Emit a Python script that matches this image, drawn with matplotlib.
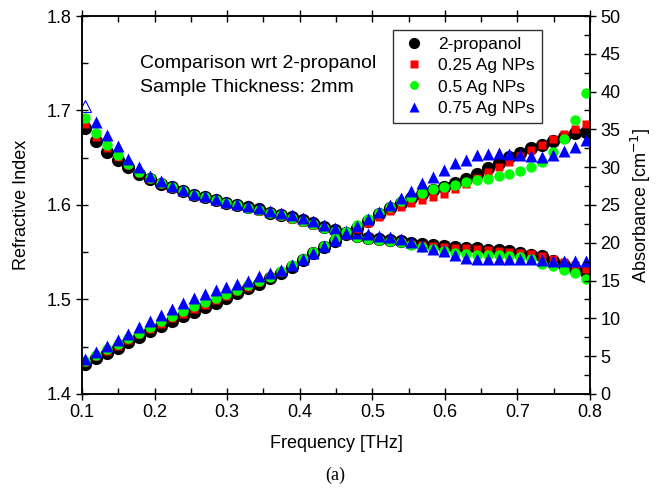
import matplotlib
matplotlib.use("Agg")
import matplotlib.pyplot as plt
from matplotlib.ticker import MultipleLocator

plt.rcParams['font.family'] = ['Liberation Sans', 'DejaVu Sans']

freq = [0.104, 0.119, 0.134, 0.149, 0.164, 0.179, 0.194, 0.209, 0.224, 0.239,
        0.254, 0.269, 0.284, 0.299, 0.314, 0.329, 0.344, 0.359, 0.374, 0.389,
        0.404, 0.419, 0.434, 0.449, 0.464, 0.479, 0.494, 0.509, 0.524, 0.539,
        0.554, 0.569, 0.584, 0.599, 0.614, 0.629, 0.644, 0.659, 0.674, 0.689,
        0.704, 0.719, 0.734, 0.749, 0.764, 0.779, 0.794]

# refractive index
n_prop = [1.681, 1.668, 1.656, 1.648, 1.640, 1.633, 1.628, 1.622, 1.619, 1.615,
          1.611, 1.608, 1.605, 1.602, 1.600, 1.598, 1.596, 1.592, 1.589, 1.587,
          1.584, 1.581, 1.577, 1.574, 1.570, 1.567, 1.565, 1.564, 1.563, 1.562,
          1.560, 1.559, 1.558, 1.557, 1.556, 1.555, 1.554, 1.552, 1.552, 1.551,
          1.549, 1.547, 1.546, 1.541, 1.537, 1.532, 1.529]
n_025 = [1.686, 1.672, 1.660, 1.651, 1.642, 1.634, 1.628, 1.622, 1.618, 1.614,
         1.610, 1.607, 1.604, 1.601, 1.599, 1.597, 1.594, 1.591, 1.588, 1.585,
         1.582, 1.579, 1.576, 1.572, 1.569, 1.566, 1.564, 1.563, 1.562, 1.561,
         1.559, 1.558, 1.557, 1.556, 1.555, 1.554, 1.553, 1.552, 1.551, 1.550,
         1.549, 1.548, 1.546, 1.543, 1.540, 1.536, 1.532]
n_05 = [1.692, 1.676, 1.664, 1.653, 1.643, 1.635, 1.629, 1.623, 1.619, 1.615,
        1.611, 1.608, 1.605, 1.602, 1.600, 1.597, 1.595, 1.592, 1.589, 1.586,
        1.583, 1.580, 1.576, 1.573, 1.569, 1.566, 1.564, 1.563, 1.562, 1.561,
        1.558, 1.556, 1.553, 1.551, 1.549, 1.548, 1.547, 1.547, 1.547, 1.546,
        1.545, 1.543, 1.538, 1.535, 1.531, 1.528, 1.522]
n_075 = [1.705, 1.688, 1.674, 1.662, 1.649, 1.640, 1.631, 1.625, 1.620, 1.616,
         1.612, 1.609, 1.606, 1.603, 1.601, 1.599, 1.597, 1.594, 1.591, 1.589,
         1.586, 1.583, 1.579, 1.576, 1.573, 1.570, 1.569, 1.567, 1.566, 1.564,
         1.561, 1.557, 1.553, 1.551, 1.547, 1.544, 1.543, 1.543, 1.543, 1.543,
         1.543, 1.543, 1.542, 1.541, 1.541, 1.541, 1.541]

# absorbance [cm^-1]
a_prop = [3.9, 4.7, 5.4, 6.1, 6.9, 7.6, 8.3, 9.0, 9.7, 10.3,
          10.9, 11.5, 12.1, 12.7, 13.3, 14.0, 14.6, 15.3, 16.0, 16.8,
          17.7, 18.6, 19.4, 20.3, 21.2, 22.0, 22.9, 23.8, 24.6, 25.3,
          25.9, 26.5, 27.0, 27.4, 27.9, 28.4, 29.1, 29.85, 30.6, 31.3,
          31.9, 32.5, 32.9, 33.5, 34.0, 34.5, 34.7]
a_025 = [4.2, 5.0, 5.7, 6.4, 7.2, 7.9, 8.6, 9.3, 10.0, 10.6,
         11.2, 11.8, 12.4, 13.0, 13.6, 14.2, 14.8, 15.5, 16.2, 17.0,
         17.8, 18.6, 19.4, 20.2, 21.0, 21.8, 22.6, 23.4, 24.2, 24.7,
         25.2, 25.7, 26.0, 26.4, 27.1, 27.8, 28.6, 29.3, 30.0, 30.7,
         31.5, 32.3, 32.9, 33.7, 34.4, 35.0, 35.7]
a_05 = [4.3, 5.1, 5.9, 6.6, 7.4, 8.1, 8.9, 9.6, 10.3, 11.0,
        11.6, 12.2, 12.7, 13.2, 13.8, 14.4, 14.9, 15.5, 16.3, 17.1,
        17.9, 18.8, 19.6, 20.5, 21.4, 22.3, 23.1, 24.0, 24.8, 25.5,
        26.1, 26.6, 27.1, 27.4, 27.7, 28.0, 28.3, 28.5, 28.8, 29.1,
        29.5, 30.0, 30.7, 32.0, 33.7, 36.2, 39.8]
a_075 = [4.6, 5.5, 6.4, 7.1, 8.0, 8.8, 9.6, 10.4, 11.2, 12.0,
         12.7, 13.2, 13.8, 14.2, 14.6, 15.0, 15.6, 16.0, 16.4, 17.0,
         17.8, 18.7, 19.6, 20.4, 21.3, 22.2, 23.1, 24.1, 25.0, 25.9,
         26.8, 27.9, 28.7, 29.6, 30.5, 31.0, 31.6, 31.8, 31.9, 31.8,
         31.6, 31.5, 31.3, 31.6, 32.1, 32.7, 33.6]

labels = ['2-propanol', '0.25 Ag NPs', '0.5 Ag NPs', '0.75 Ag NPs']

fig = plt.figure(figsize=(6.6, 4.91), dpi=100)
ax = fig.add_axes([0.1242, 0.1976, 0.7697, 0.7698])
ax2 = ax.twinx()

st = [dict(marker='o', color='black', ms=9.5),
      dict(marker='s', color='red', ms=6),
      dict(marker='o', color='#00ff00', ms=7.5),
      dict(marker='^', color='blue', ms=8.5)]

for y, s in zip([n_prop, n_025, n_05], st[:3]):
    ax.plot(freq, y, ls='none', mec='none', **s)
ax.plot(freq[1:], n_075[1:], ls='none', mec='none', **st[3])
ax.plot(freq[:1], n_075[:1], ls='none', mfc='none', mec='blue', mew=0.8,
        marker='^', ms=8.5)

handles = []
for y, s, lab in zip([a_prop, a_025, a_05, a_075], st, labels):
    h, = ax2.plot(freq, y, ls='none', mec='none', label=lab, **s)
    handles.append(h)

ax.set_xlim(0.1, 0.8)
ax.set_ylim(1.4, 1.8)
ax2.set_ylim(0, 50)
ax.xaxis.set_major_locator(MultipleLocator(0.1))
ax.xaxis.set_minor_locator(MultipleLocator(0.05))
ax.yaxis.set_major_locator(MultipleLocator(0.1))
ax.yaxis.set_minor_locator(MultipleLocator(0.05))
ax2.yaxis.set_major_locator(MultipleLocator(5))
ax2.yaxis.set_minor_locator(MultipleLocator(2.5))

for a in (ax, ax2):
    a.tick_params(which='major', direction='inout', length=8, width=1,
                  labelsize=13)
    a.tick_params(which='minor', direction='in', length=4, width=1)
    for sp in a.spines.values():
        sp.set_linewidth(1.1)
ax.tick_params(which='both', top=True)

ax.set_xlabel('Frequency [THz]', fontsize=13, labelpad=10)
ax.set_ylabel('Refractive Index', fontsize=13, labelpad=12)
ax2.set_ylabel('Absorbance [cm$^{-1}$]', fontsize=13, labelpad=6)

ax.text(0.18, 1.7455, 'Comparison wrt 2-propanol', fontsize=14,
        va='baseline', ha='left')
ax.text(0.18, 1.7196, 'Sample Thickness: 2mm', fontsize=14,
        va='baseline', ha='left')

leg = ax2.legend(handles=handles, loc='upper right',
                 bbox_to_anchor=(0.9055, 0.963), borderaxespad=0,
                 fontsize=12.5, frameon=True,
                 fancybox=False, edgecolor='black', handletextpad=0.6,
                 borderpad=0.4, labelspacing=0.35, handlelength=1.6,
                 markerscale=0.85)
leg.get_frame().set_linewidth(1)

fig.text(0.508, 0.032, '(a)', fontsize=13, ha='center', va='center',
         family=['Liberation Serif', 'DejaVu Serif'])

fig.savefig('out.png', dpi=100)
